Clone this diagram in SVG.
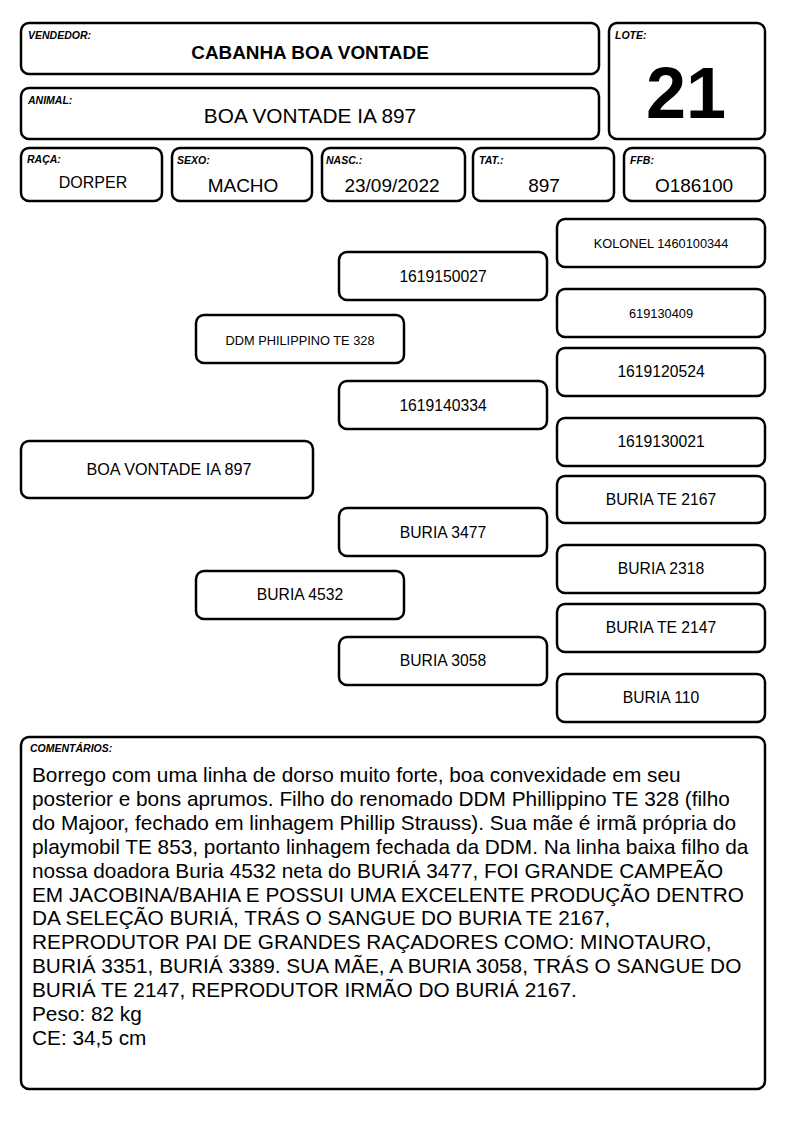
<svg xmlns="http://www.w3.org/2000/svg" width="794" height="1123" viewBox="0 0 794 1123">
<style>
rect{fill:#fff;stroke:#000;stroke-width:2.5}
text{font-family:"Liberation Sans",Arial,sans-serif;fill:#000}
.lbl{font-size:10.5px;font-weight:bold;font-style:italic}
.c{text-anchor:middle}
.v{font-size:19px}
.n{font-size:15.7px}
.s{font-size:12.8px}
.cm{font-size:20.8px}
</style>
<rect x="0" y="0" width="794" height="1123" style="stroke:none"/>
<g id="vendedor"><rect x="21" y="23" width="578" height="51" rx="8"/><text class="lbl" x="28" y="39">VENDEDOR:</text><text class="c" x="310" y="59" style="font-size:18.9px;font-weight:bold">CABANHA BOA VONTADE</text></g>
<g id="animal"><rect x="21" y="88" width="578" height="51" rx="8"/><text class="lbl" x="28" y="104">ANIMAL:</text><text class="c" x="310" y="123" style="font-size:20.8px">BOA VONTADE IA 897</text></g>
<g id="lote"><rect x="609" y="23" width="156" height="116" rx="8"/><text class="lbl" x="615" y="39">LOTE:</text><text class="c" x="686" y="118" style="font-size:72px;font-weight:bold">21</text></g>
<g id="raca"><rect x="21" y="148" width="141" height="53" rx="8"/><text class="lbl" x="27" y="163">RAÇA:</text><text class="c" x="93" y="188" style="font-size:16px">DORPER</text></g>
<g id="sexo"><rect x="172" y="148" width="140" height="53" rx="8"/><text class="lbl" x="177" y="164">SEXO:</text><text class="c v" x="243" y="192">MACHO</text></g>
<g id="nasc"><rect x="322" y="148" width="143" height="53" rx="8"/><text class="lbl" x="326" y="164">NASC.:</text><text class="c v" x="392" y="192">23/09/2022</text></g>
<g id="tat"><rect x="473" y="148" width="141" height="53" rx="8"/><text class="lbl" x="479" y="164">TAT.:</text><text class="c v" x="544" y="192">897</text></g>
<g id="ffb"><rect x="624" y="148" width="141" height="53" rx="8"/><text class="lbl" x="630" y="164">FFB:</text><text class="c v" x="694" y="192">O186100</text></g>
<g id="connectors"></g>
<g id="n-kolonel"><rect x="557" y="219" width="208" height="48" rx="8"/><text class="c s" x="661" y="248">KOLONEL 1460100344</text></g>
<g id="n-1619150027"><rect x="339" y="252" width="208" height="48" rx="8"/><text class="c n" x="443" y="282">1619150027</text></g>
<g id="n-619130409"><rect x="557" y="289" width="208" height="48" rx="8"/><text class="c s" x="661" y="318">619130409</text></g>
<g id="n-ddm"><rect x="196" y="315" width="208" height="48" rx="8"/><text class="c s" x="300" y="345">DDM PHILIPPINO TE 328</text></g>
<g id="n-1619120524"><rect x="557" y="348" width="208" height="48" rx="8"/><text class="c n" x="661" y="377">1619120524</text></g>
<g id="n-1619140334"><rect x="339" y="381" width="208" height="48" rx="8"/><text class="c n" x="443" y="411">1619140334</text></g>
<g id="n-1619130021"><rect x="557" y="418" width="208" height="48" rx="8"/><text class="c n" x="661" y="447">1619130021</text></g>
<g id="n-boa"><rect x="21" y="441" width="292" height="57" rx="8"/><text class="c" x="169" y="475" style="font-size:16.2px">BOA VONTADE IA 897</text></g>
<g id="n-te2167"><rect x="557" y="476" width="208" height="47" rx="8"/><text class="c n" x="661" y="505">BURIA TE 2167</text></g>
<g id="n-3477"><rect x="339" y="508" width="208" height="48" rx="8"/><text class="c n" x="443" y="538">BURIA 3477</text></g>
<g id="n-2318"><rect x="557" y="545" width="208" height="48" rx="8"/><text class="c n" x="661" y="574">BURIA 2318</text></g>
<g id="n-4532"><rect x="196" y="571" width="208" height="48" rx="8"/><text class="c n" x="300" y="600">BURIA 4532</text></g>
<g id="n-te2147"><rect x="557" y="604" width="208" height="48" rx="8"/><text class="c n" x="661" y="633">BURIA TE 2147</text></g>
<g id="n-3058"><rect x="339" y="637" width="208" height="48" rx="8"/><text class="c n" x="443" y="666">BURIA 3058</text></g>
<g id="n-110"><rect x="557" y="674" width="208" height="48" rx="8"/><text class="c n" x="661" y="703">BURIA 110</text></g>
<g id="comentarios"><rect x="21" y="737" width="744" height="352" rx="8"/><text class="lbl" x="30" y="752">COMENTÁRIOS:</text>
<text class="cm" x="32" y="782">Borrego com uma linha de dorso muito forte, boa convexidade em seu</text>
<text class="cm" x="32" y="806">posterior e bons aprumos. Filho do renomado DDM Phillippino TE 328 (filho</text>
<text class="cm" x="32" y="830">do Majoor, fechado em linhagem Phillip Strauss). Sua mãe é irmã própria do</text>
<text class="cm" x="32" y="854">playmobil TE 853, portanto linhagem fechada da DDM. Na linha baixa filho da</text>
<text class="cm" x="32" y="878">nossa doadora Buria 4532 neta do BURIÁ 3477, FOI GRANDE CAMPEÃO</text>
<text class="cm" x="32" y="902">EM JACOBINA/BAHIA E POSSUI UMA EXCELENTE PRODUÇÃO DENTRO</text>
<text class="cm" x="32" y="925">DA SELEÇÃO BURIÁ, TRÁS O SANGUE DO BURIA TE 2167,</text>
<text class="cm" x="32" y="949">REPRODUTOR PAI DE GRANDES RAÇADORES COMO: MINOTAURO,</text>
<text class="cm" x="32" y="973">BURIÁ 3351, BURIÁ 3389. SUA MÃE, A BURIA 3058, TRÁS O SANGUE DO</text>
<text class="cm" x="32" y="997">BURIÁ TE 2147, REPRODUTOR IRMÃO DO BURIÁ 2167.</text>
<text class="cm" x="32" y="1021">Peso: 82 kg</text>
<text class="cm" x="32" y="1045">CE: 34,5 cm</text>
</g>
</svg>
